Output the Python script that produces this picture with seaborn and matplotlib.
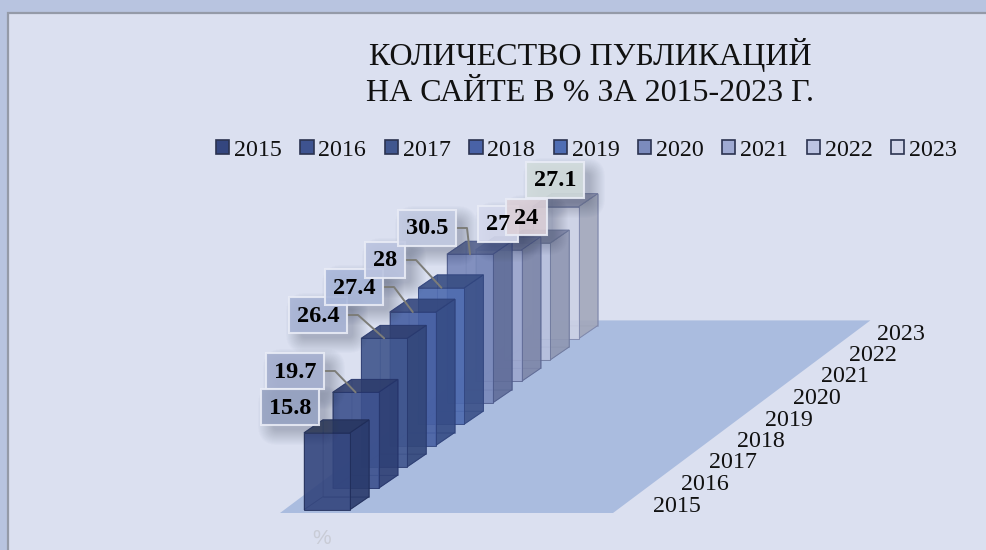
import pandas as pd
import seaborn as sns
import matplotlib.pyplot as plt

from matplotlib.lines import Line2D
from matplotlib.patches import FancyBboxPatch, Patch, Polygon, Rectangle
from matplotlib.transforms import Affine2D


sns.set_theme(style="white")
plt.rcParams["font.family"] = ["Liberation Serif", "DejaVu Serif"]


# -----------------------------------
# Data
# -----------------------------------

YEARS = [2015, 2016, 2017, 2018, 2019, 2020, 2021, 2022, 2023]
VALUES = [15.8, 19.7, 26.4, 27.4, 28, 30.5, 27, 24, 27.1]
VALUE_LABELS = ["15.8", "19.7", "26.4", "27.4", "28", "30.5", "27", "24", "27.1"]

TITLE = "КОЛИЧЕСТВО ПУБЛИКАЦИЙ\nНА САЙТЕ В % ЗА 2015-2023 Г."
SERIES_NAME = "%"

# bar colours, dark to pale
FRONT_COLORS = ["#34467f", "#3e5390", "#41578f", "#4962a6", "#4f6db3",
                "#7b8bbd", "#9faad2", "#bcc4e2", "#d2d6ea"]
SIDE_COLORS = ["#2a3a6b", "#2e3f74", "#324679", "#354b84", "#3a5088",
               "#5f6c98", "#7d86a8", "#8f97b2", "#a3a8bb"]
TOP_COLORS = ["#27355f", "#2d3c6c", "#2f3f70", "#33467c", "#374c82",
              "#566492", "#6c769e", "#7f87a8", "#9298b4"]
EDGE_COLORS = ["#1f2c58", "#24336a", "#28386e", "#2c3f78", "#30447e",
               "#4a5788", "#5b6692", "#6a7499", "#7a83a8"]
BOX_COLORS = ["#97a3c2", "#a5afcf", "#a8b4d5", "#aab8da", "#bbc4e0",
              "#c2cae2", "#d6daee", "#dcd0d8", "#d2dcdc"]


# -----------------------------------
# Layout (pixels of the 987x550 picture)
# -----------------------------------

WIDTH = 987
HEIGHT = 550

PX_PER_UNIT = 4.87        # pixels for one percent
ROW_DX = 28.6             # one year further back
ROW_DY = 21.4
BAR_X0 = 304
BAR_Y0 = 509.7
BAR_W = 46
BAR_DX = 19
BAR_DY = 13

# label box left, top for each year
BOX_LEFT = [261, 266, 289, 325, 365, 398, 478, 506, 526]
BOX_TOP = [389, 353, 297, 269, 242, 210, 206, 199, 162]
BOX_W = [58, 58, 58, 58, 40, 58, 40, 41, 58]
BOX_H = 36
# no leader where the box sits on its bar
HAS_LEADER = [False, True, True, True, True, True, False, False, False]


# -----------------------------------
# Helpers
# -----------------------------------

fig = plt.figure(figsize=(WIDTH / 100, HEIGHT / 100), dpi=100, facecolor="#b8c4e0")

# ax: x in pixels, y in percent points measured from the first bar's foot
ax = fig.add_axes([0, 0, 1, 1])
ax.patch.set_visible(False)

# transform for anything placed by picture pixels
px = Affine2D().scale(1 / WIDTH, -1 / HEIGHT).translate(0, 1) + fig.transFigure


def to_units(y_pixels):

    return (BAR_Y0 - y_pixels) / PX_PER_UNIT


def draw_bar(row):

    i = row["row"]
    left = BAR_X0 + i * ROW_DX
    base = i * ROW_DY / PX_PER_UNIT
    top = base + row["value"]

    dx = BAR_DX
    dy = BAR_DY / PX_PER_UNIT
    right = left + BAR_W

    edge = row["edge"]
    alpha = 0.82

    # hidden faces first, they show through the front
    hidden = [
        [(left + dx, base + dy), (right + dx, base + dy),
         (right + dx, top + dy), (left + dx, top + dy)],
        [(left, base), (left + dx, base + dy),
         (left + dx, top + dy), (left, top)],
        [(left, base), (right, base),
         (right + dx, base + dy), (left + dx, base + dy)],
    ]
    for face in hidden:
        ax.add_patch(Polygon(face, closed=True, facecolor=row["side"],
                             edgecolor=edge, linewidth=0.6, alpha=0.45))

    # right side and top
    ax.add_patch(Polygon(
        [(right, base), (right + dx, base + dy),
         (right + dx, top + dy), (right, top)],
        closed=True, facecolor=row["side"], edgecolor=edge,
        linewidth=0.7, alpha=alpha))
    ax.add_patch(Polygon(
        [(left, top), (right, top), (right + dx, top + dy), (left + dx, top + dy)],
        closed=True, facecolor=row["top"], edgecolor=edge,
        linewidth=0.7, alpha=alpha))

    # front face
    sns.barplot(
        x=[left + BAR_W / 2],
        y=[row["value"]],
        bottom=base,
        width=BAR_W,
        native_scale=True,
        errorbar=None,
        color=row["front"],
        saturation=1,
        edgecolor=edge,
        linewidth=0.7,
        alpha=alpha,
        ax=ax,
    )


def draw_box_shadow(left, top, width, height):

    # soft shadow, rounded boxes growing outwards, mostly to the lower right
    for grow in range(-3, 13):
        fig.add_artist(FancyBboxPatch(
            (left + 9 - grow, top + 8 - grow),
            width + 2 * grow, height + 2 * grow,
            boxstyle=f"round,pad=0,rounding_size={grow + 8}",
            transform=px, facecolor="#3a4460", edgecolor="none",
            alpha=0.018, zorder=3))


# -----------------------------------
# Build chart
# -----------------------------------

bars = pd.DataFrame({
    "row": range(len(YEARS)),
    "year": YEARS,
    "value": VALUES,
    "front": FRONT_COLORS,
    "side": SIDE_COLORS,
    "top": TOP_COLORS,
    "edge": EDGE_COLORS,
})

# panel behind the chart, runs off the right and bottom of the picture
fig.add_artist(Rectangle((8, 13), WIDTH, HEIGHT, transform=px,
                         facecolor="#dbe0f0", edgecolor="#949aa8",
                         linewidth=1.6, zorder=-5))

# floor
n = len(YEARS)
floor_y = to_units(513)
floor_rise = n * ROW_DY / PX_PER_UNIT
ax.add_patch(Polygon(
    [(280, floor_y), (613, floor_y),
     (613 + n * ROW_DX, floor_y + floor_rise), (280 + n * ROW_DX, floor_y + floor_rise)],
    closed=True, facecolor="#aabcdf", edgecolor="none"))

# back bars first so the near ones cover them
for _, row in bars.sort_values("row", ascending=False).iterrows():
    draw_bar(row)

ax.set_xlim(0, WIDTH)
ax.set_ylim(to_units(HEIGHT), to_units(0))
ax.set_xlabel("")
ax.set_ylabel("")
ax.set_xticks([])
ax.set_yticks([])
sns.despine(ax=ax, left=True, bottom=True)

# value labels, 2015 goes last because it sits over 2016
order = list(range(1, n)) + [0]

for i in order:

    left = BOX_LEFT[i]
    top = BOX_TOP[i]
    width = BOX_W[i]

    draw_box_shadow(left, top, width, BOX_H)

    if HAS_LEADER[i]:
        end_x = BAR_X0 + i * ROW_DX + BAR_W / 2
        end_y = BAR_Y0 - i * ROW_DY - VALUES[i] * PX_PER_UNIT
        mid_y = top + BOX_H / 2
        fig.add_artist(Line2D(
            [left + width + 1, left + width + 11, end_x],
            [mid_y, mid_y, end_y],
            transform=px, color="#7d7d78", linewidth=1.4, zorder=4))

    fig.add_artist(Rectangle((left, top), width, BOX_H, transform=px,
                             facecolor=BOX_COLORS[i], edgecolor="#e9ecf6",
                             linewidth=1.5, alpha=0.9, zorder=5))

    fig.text(left + width / 2, top + BOX_H / 2 + 1, VALUE_LABELS[i],
             transform=px, ha="center", va="center", fontsize=17.5,
             fontweight="bold", color="black", zorder=6)

# title
fig.text(590, 73, TITLE, transform=px, ha="center", va="center",
         fontsize=23, linespacing=1.33, color="#111111")

# legend
handles = [
    Patch(facecolor=color, edgecolor="#2b3350", linewidth=1.2)
    for color in FRONT_COLORS
]
fig.legend(
    handles,
    [str(year) for year in YEARS],
    ncol=n,
    loc="center",
    bbox_to_anchor=(586.5 / WIDTH, 1 - 150 / HEIGHT),
    frameon=False,
    fontsize=17.3,
    handlelength=0.55,
    handleheight=0.55,
    handletextpad=0.2,
    columnspacing=0.77,
    labelcolor="#111111",
)

# depth axis labels
for i, year in enumerate(YEARS):
    fig.text(677 + i * 28, 506 - i * 21.5, str(year), transform=px,
             ha="center", va="center", fontsize=17.3, color="#111111")

# series name
fig.text(322, 538, SERIES_NAME, transform=px, ha="center", va="center",
         fontsize=15, family="Liberation Sans", color="#c9ccd6")

plt.savefig("out.png", dpi=100)

plt.close(fig)
